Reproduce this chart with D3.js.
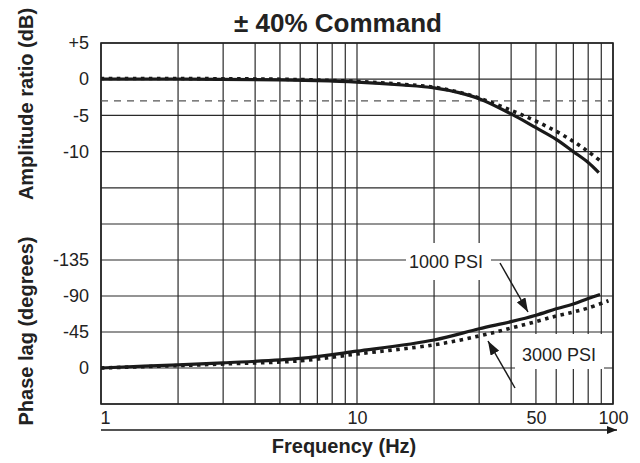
<!DOCTYPE html>
<html>
<head>
<meta charset="utf-8">
<script src="https://cdn.jsdelivr.net/npm/d3@7"></script>
<style>
  body { margin: 0; background: #fff; }
  text { font-family: "Liberation Sans", Arial, Helvetica, sans-serif; fill: #222; }
</style>
</head>
<body>
<div id="chart"></div>
<script>
// amplitude ratio (dB)
const ampFreq1000 = [1, 2, 5, 7, 10, 15, 20, 25, 30, 40, 50, 60, 70, 80, 88];
const amp1000     = [0, 0, -0.1, -0.2, -0.4, -0.8, -1.2, -1.85, -2.7, -4.8, -6.7, -8.3, -10, -11.5, -12.9];
const ampFreq3000 = [1, 5, 10, 15, 20, 25, 30, 40, 50, 60, 70, 80, 91];
const amp3000     = [0.1, 0, -0.3, -0.7, -1.1, -1.8, -2.6, -4.3, -5.8, -7.2, -8.6, -10, -11.5];

// phase (degrees)
const phFreq1000 = [1, 2, 3, 6, 10, 20, 30, 40, 50, 60, 70, 80, 89];
const ph1000     = [0, -4, -6.5, -12, -21, -35, -49, -58, -66, -74, -80, -87, -92];
const phFreq3000 = [1, 2, 3, 6, 10, 20, 30, 40, 50, 60, 70, 80, 96];
const ph3000     = [0, -3, -5, -9, -17.5, -29, -40, -50, -58, -65, -70, -75, -84];

const ampTicks = [5, 0, -5, -10];
const ampGrid = [5, 0, -5, -10, -15, -20];
const phTicks = [-135, -90, -45, 0];
const phGrid = [-135, -90, -45, 0, 45];
const freqTicks = [1, 10, 50, 100];
const cutoff = -3;

const W = 640, H = 463;
const mLeft = 101, mRight = 613, mTop = 43, mMid = 224, mBottom = 404;

const svg = d3.select("#chart").append("svg")
  .attr("width", W).attr("height", H);

const x = d3.scaleLog().domain([1, 100]).range([mLeft, mRight]);
const yAmp = d3.scaleLinear().domain([5, -20]).range([mTop, mMid]);
const yPh = d3.scaleLinear().domain([-180, 45]).range([mMid, mBottom]);

// grid
const grid = svg.append("g").attr("stroke", "#2a2a2a").attr("stroke-width", 1.2);
grid.selectAll(".vx").data(x.ticks()).enter().append("line")
  .attr("x1", d => x(d)).attr("x2", d => x(d))
  .attr("y1", mTop).attr("y2", mBottom);
grid.selectAll(".ha").data(ampGrid).enter().append("line")
  .attr("x1", mLeft).attr("x2", mRight)
  .attr("y1", d => yAmp(d)).attr("y2", d => yAmp(d));
grid.selectAll(".hp").data(phGrid).enter().append("line")
  .attr("x1", mLeft).attr("x2", mRight)
  .attr("y1", d => yPh(d)).attr("y2", d => yPh(d));

svg.append("rect")
  .attr("x", mLeft).attr("y", mTop)
  .attr("width", mRight - mLeft).attr("height", mBottom - mTop)
  .attr("fill", "none").attr("stroke", "#222").attr("stroke-width", 1.6);

// -3 dB line
svg.append("line")
  .attr("x1", mLeft).attr("x2", mRight)
  .attr("y1", yAmp(cutoff)).attr("y2", yAmp(cutoff))
  .attr("stroke", "#555").attr("stroke-width", 1.2)
  .attr("stroke-dasharray", "7,6");

// y tick labels (plain hyphen minus)
const tickStyle = g => g.selectAll("text")
  .style("font-size", "18px").attr("fill", "#222");
svg.append("g")
  .attr("transform", `translate(${mLeft},0)`)
  .call(d3.axisLeft(yAmp).tickValues(ampTicks).tickSize(0).tickPadding(12)
    .tickFormat(d => d > 0 ? "+" + d : String(d)))
  .call(g => g.select(".domain").remove())
  .call(tickStyle);
svg.append("g")
  .attr("transform", `translate(${mLeft},0)`)
  .call(d3.axisLeft(yPh).tickValues(phTicks).tickSize(0).tickPadding(12)
    .tickFormat(d => String(d)))
  .call(g => g.select(".domain").remove())
  .call(tickStyle);

// label boxes (cover grid)
const annot = svg.append("g");
annot.append("rect").attr("x", 406).attr("y", 243).attr("width", 85).attr("height", 37).attr("fill", "#fff");
annot.append("rect").attr("x", 515).attr("y", 334).attr("width", 89).attr("height", 35).attr("fill", "#fff");

// curves
const line = d3.line().curve(d3.curveCatmullRom.alpha(0.5));
const ampSolid = ampFreq1000.map((f, i) => [x(f), yAmp(amp1000[i])]);
const ampDot = ampFreq3000.map((f, i) => [x(f), yAmp(amp3000[i])]);
const phSolid = phFreq1000.map((f, i) => [x(f), yPh(ph1000[i])]);
const phDot = phFreq3000.map((f, i) => [x(f), yPh(ph3000[i])]);

[ampDot, phDot].forEach(pts => svg.append("path")
  .attr("d", line(pts)).attr("fill", "none")
  .attr("stroke", "#1a1a1a").attr("stroke-width", 3.6)
  .attr("stroke-dasharray", "3.5,4.5"));
[ampSolid, phSolid].forEach(pts => svg.append("path")
  .attr("d", line(pts)).attr("fill", "none")
  .attr("stroke", "#1a1a1a").attr("stroke-width", 3.2));

// annotations
const defs = svg.append("defs");
defs.append("marker")
  .attr("id", "head").attr("viewBox", "0 0 14 10")
  .attr("refX", 14).attr("refY", 5)
  .attr("markerWidth", 14).attr("markerHeight", 10)
  .attr("markerUnits", "userSpaceOnUse")
  .attr("orient", "auto")
  .append("path").attr("d", "M0,0L14,5L0,10Z").attr("fill", "#1a1a1a");

annot.append("text").attr("x", 446).attr("y", 268)
  .attr("text-anchor", "middle").style("font-size", "18px").text("1000 PSI");
annot.append("text").attr("x", 559).attr("y", 361)
  .attr("text-anchor", "middle").style("font-size", "18px").text("3000 PSI");

svg.append("line").attr("x1", 500).attr("y1", 263).attr("x2", 528).attr("y2", 312)
  .attr("stroke", "#1a1a1a").attr("stroke-width", 1.5).attr("marker-end", "url(#head)");
svg.append("line").attr("x1", 515).attr("y1", 388).attr("x2", 488).attr("y2", 341)
  .attr("stroke", "#1a1a1a").attr("stroke-width", 1.5).attr("marker-end", "url(#head)");

// frequency axis
svg.append("g")
  .attr("transform", "translate(0,424)")
  .call(d3.axisBottom(x).tickValues(freqTicks).tickSize(0).tickPadding(0)
    .tickFormat(d3.format("d")))
  .call(g => g.select(".domain").remove())
  .call(g => g.selectAll("text").attr("dy", 0).attr("y", 0)
    .style("font-size", "18px").attr("fill", "#222"))
  .call(g => g.selectAll("text").filter(d => d === 1).attr("text-anchor", "start").attr("dx", -1));

defs.append("marker")
  .attr("id", "axhead").attr("viewBox", "0 0 10 8")
  .attr("refX", 10).attr("refY", 4)
  .attr("markerWidth", 10).attr("markerHeight", 8)
  .attr("markerUnits", "userSpaceOnUse")
  .attr("orient", "auto")
  .append("path").attr("d", "M0,0L10,4L0,8Z").attr("fill", "#1a1a1a");
svg.append("line").attr("x1", mLeft).attr("x2", 617).attr("y1", 430).attr("y2", 430)
  .attr("stroke", "#1a1a1a").attr("stroke-width", 1.5).attr("marker-end", "url(#axhead)");

// titles
svg.append("text").attr("x", 338).attr("y", 32)
  .attr("text-anchor", "middle").style("font-size", "26px").style("font-weight", "bold")
  .text("± 40% Command");
svg.append("text").attr("x", 344).attr("y", 453)
  .attr("text-anchor", "middle").style("font-size", "20px").style("font-weight", "bold")
  .text("Frequency (Hz)");
svg.append("text").attr("transform", "translate(33,104) rotate(-90)")
  .attr("text-anchor", "middle").style("font-size", "20px").style("font-weight", "bold")
  .text("Amplitude ratio (dB)");
svg.append("text").attr("transform", "translate(33,331) rotate(-90)")
  .attr("text-anchor", "middle").style("font-size", "20px").style("font-weight", "bold")
  .text("Phase lag (degrees)");
</script>
</body>
</html>
